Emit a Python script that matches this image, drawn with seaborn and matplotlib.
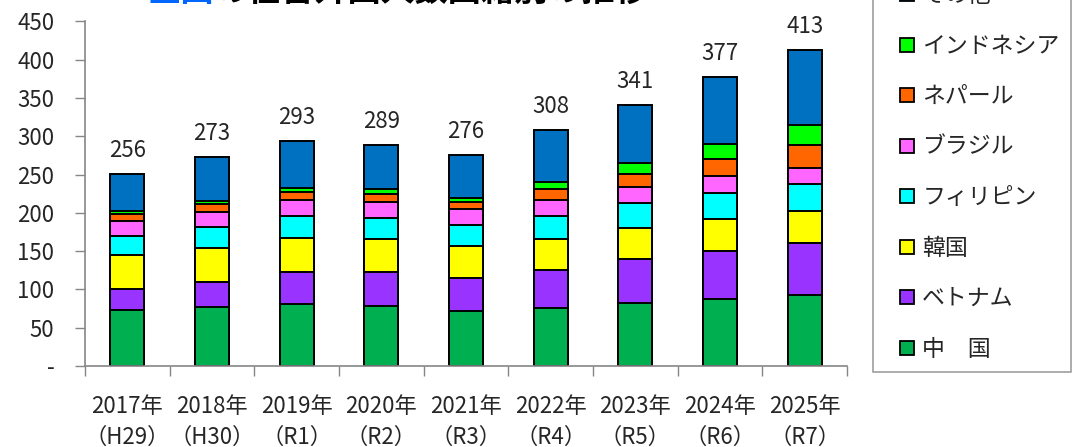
import numpy as np
import pandas as pd
import matplotlib
matplotlib.use("Agg")
import matplotlib.pyplot as plt
from matplotlib.lines import Line2D
import seaborn as sns

# data (unit: 1万人)
years = ["2017年\n（H29）", "2018年\n（H30）", "2019年\n（R1）", "2020年\n（R2）", "2021年\n（R3）",
         "2022年\n（R4）", "2023年\n（R5）", "2024年\n（R6）", "2025年\n（R7）"]
totals = [256, 273, 293, 289, 276, 308, 341, 377, 413]

china = [73.5, 76.6, 81.3, 77.9, 71.4, 76.1, 82.6, 87.1, 93.1]
vietnam = [26.6, 33.1, 41.4, 44.4, 43.9, 49.2, 56.7, 63.4, 67.9]
korea = [44.4, 44.7, 44.4, 43.1, 41.0, 40.9, 41.2, 41.0, 41.3]
philippines = [25.6, 27.5, 28.3, 27.8, 27.4, 30.0, 31.9, 34.7, 35.3]
brazil = [19.6, 19.5, 21.3, 20.9, 20.9, 20.9, 20.9, 21.5, 20.9]
nepal = [8.3, 9.7, 10.1, 10.1, 9.5, 13.6, 17.7, 22.5, 30.0]
indonesia = [4.4, 4.7, 6.0, 6.5, 5.6, 9.9, 14.4, 20.0, 26.5]
other = [48.3, 57.0, 60.9, 57.8, 56.1, 67.4, 75.3, 86.8, 97.5]

names = ["中　国", "ベトナム", "韓国", "フィリピン", "ブラジル", "ネパール", "インドネシア", "その他"]
series = [china, vietnam, korea, philippines, brazil, nepal, indonesia, other]
colors = ["#00B050", "#9933FF", "#FFFF00", "#00FFFF", "#FF66FF", "#FF6600", "#00FF00", "#0070C0"]

sns.set_style("white")
plt.rcParams['font.family'] = ['Noto Sans CJK JP', 'DejaVu Sans']

df = pd.DataFrame(dict(zip(names, series)), index=years)
cum = df.cumsum(axis=1)

fig = plt.figure(figsize=(10.79, 4.47), dpi=100)
ax = fig.add_axes([85 / 1079, 1 - 366 / 447, (847 - 85) / 1079, (366 - 21.3) / 447])

# overlapping cumulative bars, top series first
for name, c in zip(names[::-1], colors[::-1]):
    sns.barplot(x=years, y=cum[name].values, order=years, color=c, saturation=1,
                edgecolor="black", linewidth=1.4, width=0.4, ax=ax)

for i, t in enumerate(totals):
    ax.annotate(str(t), (i, cum[names[-1]].values[i]), xytext=(0, 17),
                textcoords="offset points", ha="center", va="center",
                fontsize=16, annotation_clip=False)

ax.set_xlim(-0.5, len(years) - 0.5)
ax.set_ylim(0, 450)
yt = np.arange(0, 451, 50)
ax.set_yticks(yt)
ax.set_yticklabels(["-"] + [str(v) for v in yt[1:]])
ax.set_xticks(range(len(years)))
ax.set_xticklabels(years, linespacing=1.4)
ax.set_xticks(np.arange(-0.5, len(years)), minor=True)
ax.tick_params(axis="x", which="major", length=0, pad=21, labelsize=16)
ax.tick_params(axis="x", which="minor", length=7, width=1, color="#868686", direction="out")
ax.tick_params(axis="y", length=7, width=1, color="#868686", direction="out", pad=15, labelsize=16)
ax.xaxis.set_tick_params(bottom=True, which="both")
ax.yaxis.set_tick_params(left=True)
ax.set_xlabel("")
ax.set_ylabel("")
sns.despine(ax=ax)
for s in ["left", "bottom"]:
    ax.spines[s].set_color("#868686")
    ax.spines[s].set_linewidth(1.2)

# title (cut off at the top in the original)
fig.text(147 / 1079, 1 - 1 / 447, "全国", color="#0066FF", fontsize=24,
         fontweight="bold", ha="left", va="baseline")
fig.text(215 / 1079, 1 - 1 / 447, "の在留外国人数国籍別の推移", color="black",
         fontsize=24, fontweight="bold", ha="left", va="baseline")

handles = [Line2D([], [], marker="s", linestyle="none", markersize=10,
                  markerfacecolor=c, markeredgecolor="black", markeredgewidth=1.3)
           for c in colors[::-1]]
leg = fig.legend(handles, names[::-1], loc="lower left",
                 bbox_to_anchor=(873 / 1079, 1 - 372 / 447), frameon=True,
                 fontsize=16.5, labelspacing=1.2, handlelength=2.0, handletextpad=-0.35,
                 borderpad=0.5, borderaxespad=0, fancybox=False)
leg.get_frame().set_edgecolor("#868686")
leg.get_frame().set_linewidth(1.2)

fig.savefig("out.png", dpi=100)
